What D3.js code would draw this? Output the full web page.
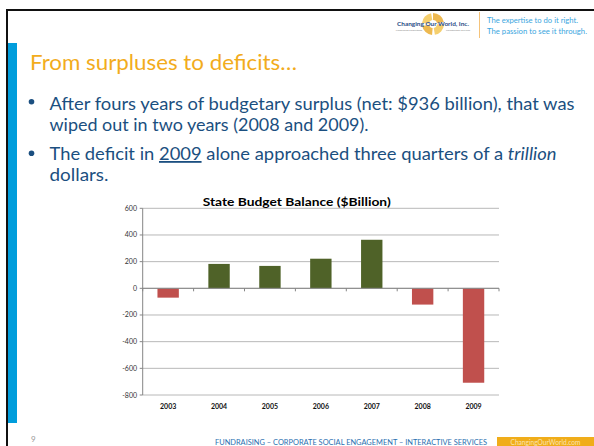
<!DOCTYPE html>
<html><head><meta charset="utf-8">
<script src="https://cdn.jsdelivr.net/npm/d3@7"></script>
<style>body{margin:0;background:#fff;}svg{display:block;}</style>
</head><body>
<svg id="s" width="594" height="446"></svg>
<script>
const years = ["2003","2004","2005","2006","2007","2008","2009"];
const balance = [-70, 183, 168, 222, 364, -122, -708];
const yTicks = [600, 400, 200, 0, -200, -400, -600, -800];
const chartTitle = "State Budget Balance ($Billion)";
const slideTitle = "From surpluses to deficits…";

const svg = d3.select("#s");
const F = "Lato, 'Open Sans', sans-serif";

// frame
svg.append("rect").attr("x",6).attr("y",9).attr("width",588).attr("height",2).attr("fill","#111");
svg.append("rect").attr("x",6).attr("y",9).attr("width",2).attr("height",437).attr("fill","#111");
svg.append("rect").attr("x",8).attr("y",43).attr("width",9).attr("height",380).attr("fill","#009ddc");

// logo
const lg = svg.append("g");
const gc = [433,24];
[[0,80],[95,170],[185,260],[275,350]].forEach((a,i)=>{
  lg.append("path").attr("transform",`translate(${gc[0]},${gc[1]})`)
    .attr("d", d3.arc().innerRadius(4).outerRadius(11).startAngle(a[0]*Math.PI/180).endAngle(a[1]*Math.PI/180)())
    .attr("fill", i%2? "#f3c34a":"#e9a825").attr("opacity",0.8);
});
lg.append("text").attr("x",433).attr("y",25.5).attr("text-anchor","middle").attr("font-family",F)
  .attr("font-size",6).attr("font-weight","bold").attr("fill","#2a4d86").attr("textLength",72).attr("lengthAdjust","spacingAndGlyphs")
  .text("Changing Our World, Inc.");
lg.append("text").attr("x",409).attr("y",30.5).attr("text-anchor","middle").attr("font-family",F)
  .attr("font-size",2.5).attr("fill","#888").text("Fundraising Consultants");
lg.append("text").attr("x",458).attr("y",30.5).attr("text-anchor","middle").attr("font-family",F)
  .attr("font-size",2.5).attr("fill","#888").text("Philanthropic Services");
svg.append("line").attr("x1",479.5).attr("x2",479.5).attr("y1",12).attr("y2",38).attr("stroke","#f5c37a").attr("stroke-width",1);
svg.append("text").attr("x",487).attr("y",23).attr("font-family",F).attr("font-size",7.3).attr("fill","#3aa6e0")
  .attr("textLength",91).attr("lengthAdjust","spacingAndGlyphs").text("The expertise to do it right.");
svg.append("text").attr("x",487).attr("y",34).attr("font-family",F).attr("font-size",7.3).attr("fill","#3aa6e0")
  .attr("textLength",100).attr("lengthAdjust","spacingAndGlyphs").text("The passion to see it through.");

// slide title
svg.append("text").attr("x",30).attr("y",70).attr("font-family",F).attr("font-size",21).attr("fill","#f2ac1c")
  .attr("textLength",267).attr("lengthAdjust","spacingAndGlyphs").text(slideTitle);

// bullets
const tc = "#1b4f80";
[101.7,153.3].forEach(cy=>svg.append("circle").attr("cx",31.5).attr("cy",cy).attr("r",2.8).attr("fill",tc));
function line(y, len, parts){
  const t = svg.append("text").attr("x",49.5).attr("y",y).attr("font-family",F).attr("font-size",18).attr("fill",tc)
    .attr("textLength",len).attr("lengthAdjust","spacingAndGlyphs");
  parts.forEach(p=>{
    const s=t.append("tspan").text(p.t);
    if(p.u) s.style("text-decoration","underline");
    if(p.i) s.attr("font-style","italic");
  });
}
line(109.5, 525, [{t:"After fours years of budgetary surplus (net: $936 billion), that was"}]);
line(130.5, 319, [{t:"wiped out in two years (2008 and 2009)."}]);
line(160, 507, [{t:"The deficit in "},{t:"2009",u:true},{t:" alone approached three quarters of a "},{t:"trillion",i:true}]);
line(181, 59, [{t:"dollars."}]);

// chart
const x0 = 142.7, x1 = 499, yTop = 208.3, yBot = 395;
const x = d3.scaleBand().domain(years).range([x0,x1]).padding(0);
const y = d3.scaleLinear().domain([-800,600]).range([yBot,yTop]);
const barW = x.bandwidth()*0.42;
const ch = svg.append("g");

ch.selectAll("line.grid").data(yTicks).join("line").attr("class","grid")
  .attr("x1",x0).attr("x2",x1).attr("y1",d=>y(d)).attr("y2",d=>y(d))
  .attr("stroke","#b8b8b8").attr("stroke-width",1);

ch.selectAll("rect.bar").data(years).join("rect").attr("class","bar")
  .attr("x",(d)=>x(d)+x.bandwidth()/2-barW/2)
  .attr("width",barW)
  .attr("y",(d,i)=>y(Math.max(0,balance[i])))
  .attr("height",(d,i)=>Math.abs(y(balance[i])-y(0)))
  .attr("fill",(d,i)=>balance[i]<0?"#c0504d":"#4f6228");

// y axis
ch.append("line").attr("x1",x0).attr("x2",x0).attr("y1",yTop).attr("y2",yBot).attr("stroke","#868686");
ch.selectAll("line.yt").data(yTicks).join("line").attr("class","yt")
  .attr("x1",x0-3).attr("x2",x0).attr("y1",d=>y(d)).attr("y2",d=>y(d)).attr("stroke","#868686");
ch.selectAll("text.yl").data(yTicks).join("text").attr("class","yl")
  .attr("x",137).attr("y",d=>y(d)+2.5).attr("text-anchor","end").attr("font-family",F)
  .attr("font-size",7).attr("fill","#333").text(d=>d);

// zero axis
ch.append("line").attr("x1",x0).attr("x2",x1).attr("y1",y(0)).attr("y2",y(0)).attr("stroke","#868686");
const bounds = years.map(d=>x(d)).concat([x1]);
ch.selectAll("line.xt").data(bounds).join("line").attr("class","xt")
  .attr("x1",d=>d).attr("x2",d=>d).attr("y1",y(0)).attr("y2",y(0)+3).attr("stroke","#868686");
ch.selectAll("text.xl").data(years).join("text").attr("class","xl")
  .attr("x",d=>x(d)+x.bandwidth()/2).attr("y",409).attr("text-anchor","middle").attr("font-family",F)
  .attr("font-size",7).attr("font-weight","bold").attr("fill","#111").text(d=>d);

ch.append("text").attr("x",296.7).attr("y",206).attr("text-anchor","middle").attr("font-family",F)
  .attr("font-size",12).attr("font-weight","bold").attr("fill","#000")
  .attr("textLength",188).attr("lengthAdjust","spacingAndGlyphs").text(chartTitle);

// footer
svg.append("text").attr("x",31).attr("y",442).attr("font-family",F).attr("font-size",8).attr("fill","#999").text("9");
svg.append("text").attr("x",215).attr("y",445).attr("font-family",F).attr("font-size",8).attr("fill","#2a6fb0")
  .attr("textLength",272).attr("lengthAdjust","spacingAndGlyphs").text("FUNDRAISING  –  CORPORATE SOCIAL ENGAGEMENT  –  INTERACTIVE SERVICES");
svg.append("rect").attr("x",497).attr("y",437).attr("width",97).attr("height",9).attr("fill","#f0ad1a");
svg.append("text").attr("x",545.5).attr("y",445).attr("text-anchor","middle").attr("font-family",F).attr("font-size",7)
  .attr("fill","#fbe3b0").attr("textLength",70).attr("lengthAdjust","spacingAndGlyphs").text("ChangingOurWorld.com");
</script>
</body></html>
